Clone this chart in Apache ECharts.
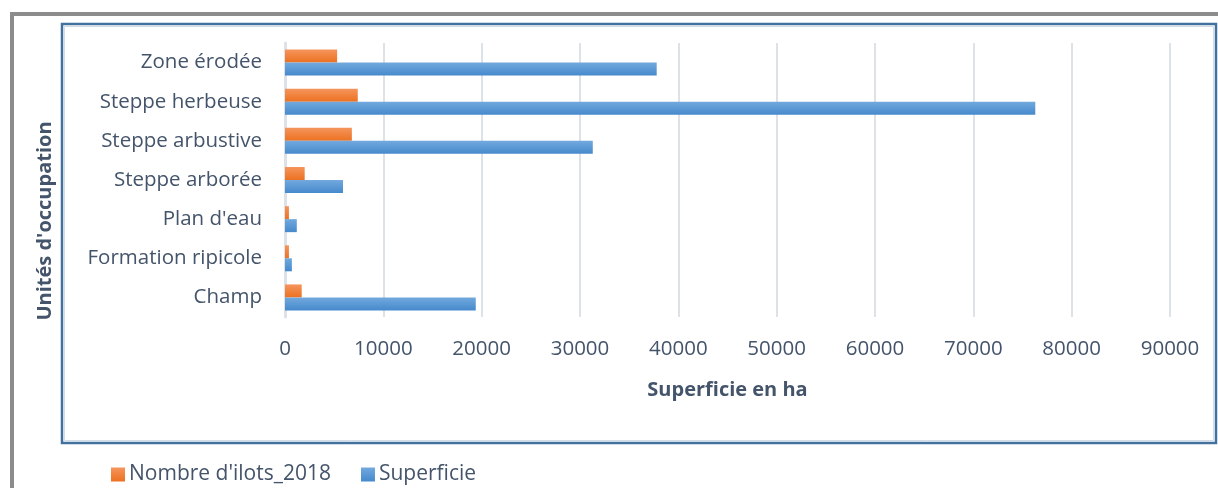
<!DOCTYPE html>
<html>
<head>
<meta charset="utf-8">
<script src="https://cdn.jsdelivr.net/npm/echarts@6/dist/echarts.min.js"></script>
<style>
  html, body { margin: 0; padding: 0; background: #fff; }
  #chart { width: 1218px; height: 488px; }
</style>
</head>
<body>
<div id="chart"></div>
<script>
// categories, top to bottom as shown
const categories = ['Zone érodée', 'Steppe herbeuse', 'Steppe arbustive', 'Steppe arborée', "Plan d'eau", 'Formation ripicole', 'Champ']
const nombreIlots = [5300, 7400, 6800, 2000, 400, 400, 1700]
const superficie = [37800, 76300, 31300, 5900, 1200, 700, 19400]
const seriesNames = ["Nombre d'ilots_2018", 'Superficie']

const TEXT = '#44546a'
const FONT = 'Open Sans'

function grad(top, bottom) {
  return new echarts.graphic.LinearGradient(0, 0, 0, 1, [
    { offset: 0, color: top },
    { offset: 1, color: bottom }
  ])
}

const chart = echarts.init(document.getElementById('chart'))

const option = {
  animation: false,
  textStyle: { fontFamily: FONT },
  graphic: [
    // outer grey frame
    { type: 'rect', shape: { x: 12, y: 14, width: 1400, height: 700 }, style: { fill: null, stroke: '#8c8c8c', lineWidth: 4 }, silent: true },
    // inner plot frame
    { type: 'rect', shape: { x: 62, y: 24, width: 1154, height: 419 }, style: { fill: null, stroke: '#41719c', lineWidth: 2.5 }, silent: true },
    { type: 'rect', shape: { x: 64.5, y: 26.5, width: 1149, height: 414 }, style: { fill: null, stroke: '#d2dce8', lineWidth: 1 }, silent: true },
    // vertical axis title (sits lower than the plot centre in the original)
    {
      type: 'text', x: 45, y: 221, rotation: Math.PI / 2, silent: true,
      style: {
        text: "Unités d'occupation", fill: TEXT, font: 'bold 20px "Open Sans"',
        align: 'center', verticalAlign: 'middle'
      }
    }
  ],
  legend: {
    data: seriesNames,
    left: 106,
    top: 459,
    itemWidth: 14,
    itemHeight: 14,
    itemGap: 30,
    icon: 'rect',
    textStyle: { color: TEXT, fontSize: 21, fontFamily: FONT, padding: [0, 0, 0, -1] }
  },
  grid: { left: 285, right: 48, top: 43, bottom: 171 },
  xAxis: {
    type: 'value',
    min: 0, max: 90000, interval: 10000,
    name: 'Superficie en ha',
    nameLocation: 'center',
    nameGap: 63,
    nameTextStyle: { color: TEXT, fontSize: 20, fontWeight: 'bold', fontFamily: FONT },
    axisLine: { show: false },
    axisTick: { show: false },
    axisLabel: { color: TEXT, fontSize: 20.5, margin: 22, fontFamily: FONT, formatter: v => String(v) },
    splitLine: { lineStyle: { color: '#dde1e8', width: 2 } }
  },
  yAxis: {
    type: 'category',
    inverse: true,
    data: categories,
    axisLine: { show: true, lineStyle: { color: '#dde1e8', width: 3 } },
    axisTick: { show: false },
    axisLabel: { color: TEXT, fontSize: 20.5, margin: 23, fontFamily: FONT }
  },
  series: [
    {
      name: seriesNames[0],
      type: 'bar',
      data: nombreIlots,
      barWidth: 13,
      barGap: '0%',
      itemStyle: { color: grad('#f5955c', '#ec7121') }
    },
    {
      name: seriesNames[1],
      type: 'bar',
      data: superficie,
      barWidth: 13,
      barGap: '0%',
      itemStyle: { color: grad('#72a9de', '#4689cc') }
    }
  ]
}

chart.setOption(option)
</script>
</body>
</html>
